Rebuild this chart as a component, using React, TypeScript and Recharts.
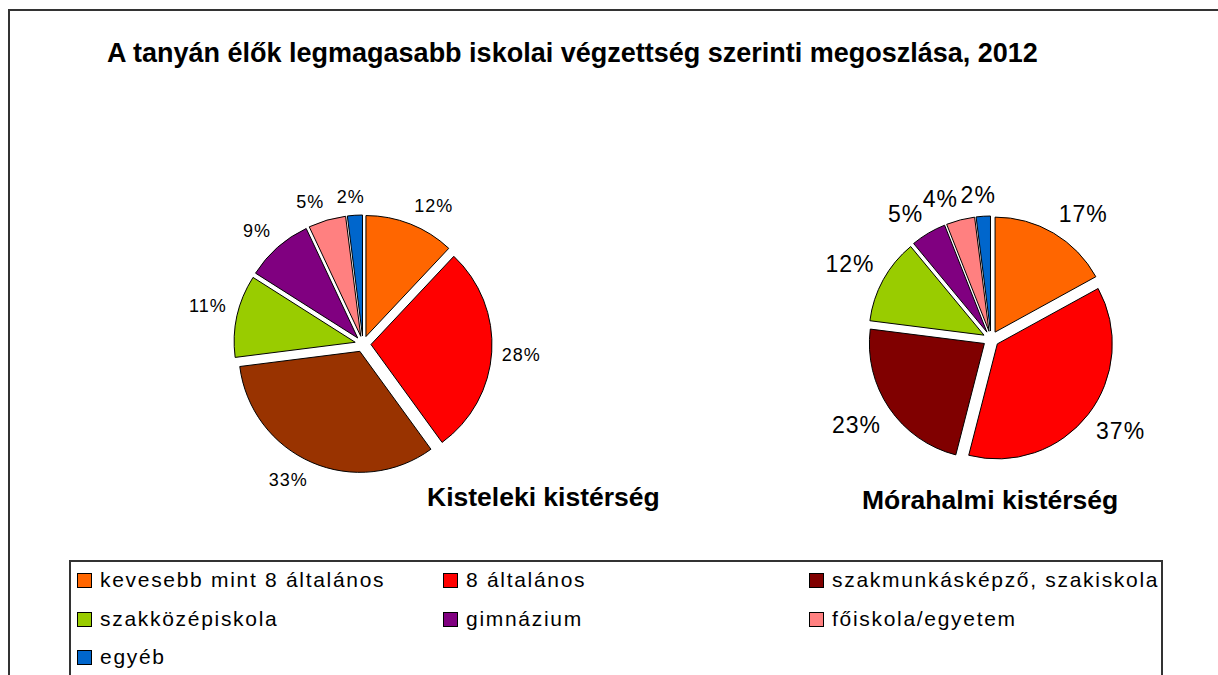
import { PieChart, Pie, Cell, Legend, Sector } from 'recharts';

const categories = [
  'kevesebb mint 8 általános',
  '8 általános',
  'szakmunkásképző, szakiskola',
  'szakközépiskola',
  'gimnázium',
  'főiskola/egyetem',
  'egyéb',
];
const kistelekiValues = [12, 28, 33, 11, 9, 5, 2];
const morahalmiValues = [17, 37, 23, 12, 5, 4, 2];
const kistelekiColors = ['#FF6600', '#FF0000', '#993300', '#99CC00', '#800080', '#FF8080', '#0066CC'];
const morahalmiColors = ['#FF6600', '#FF0000', '#800000', '#99CC00', '#800080', '#FF8080', '#0066CC'];
const legendColors = morahalmiColors;

const title = 'A tanyán élők legmagasabb iskolai végzettség szerinti megoszlása, 2012';
const kistelekiTitle = 'Kisteleki kistérség';
const morahalmiTitle = 'Mórahalmi kistérség';

const kistelekiData = categories.map((name, i) => ({ name, value: kistelekiValues[i] }));
const morahalmiData = categories.map((name, i) => ({ name, value: morahalmiValues[i] }));

const FONT = '"Liberation Sans", Arial, sans-serif';
const RAD = Math.PI / 180;
const EXPLODE = 8;
const GAP = 10;

const clamp = (v: number) => Math.max(-1, Math.min(1, v));

// each slice pushed out a bit along its mid angle
function ExplodedSector(props: any) {
  const { cx, cy, midAngle } = props;
  const dx = EXPLODE * Math.cos(-midAngle * RAD);
  const dy = EXPLODE * Math.sin(-midAngle * RAD);
  return <Sector {...props} cx={cx + dx} cy={cy + dy} />;
}

// label box corner sits just outside the exploded slice edge (Excel-like)
function makeLabel(fontSize: number) {
  return (props: any) => {
    const { cx, cy, midAngle, outerRadius, value } = props;
    const text = `${value}%`;
    const ux = Math.cos(-midAngle * RAD);
    const uy = Math.sin(-midAngle * RAD);
    const w = (String(value).length * 0.556 + 0.889) * fontSize + text.length;
    const h = fontSize * 0.95;
    const d = outerRadius + EXPLODE + GAP;
    const x = cx + ux * d + (w / 2) * clamp(4 * ux);
    const y = cy + uy * d + (h / 2) * clamp(4 * uy);
    return (
      <text
        x={x}
        y={y}
        textAnchor="middle"
        dominantBaseline="central"
        fontFamily={FONT}
        fontSize={fontSize}
        letterSpacing={1}
        fill="#000"
      >
        {text}
      </text>
    );
  };
}

const legendCols = [6, 372, 738];
const legendRows = [18, 57, 95];

function LegendBox() {
  return (
    <div style={{ position: 'relative', width: '100%', height: '100%', fontFamily: FONT }}>
      {categories.map((name, i) => {
        const left = legendCols[i % 3];
        const top = legendRows[Math.floor(i / 3)];
        return (
          <div key={name} style={{ position: 'absolute', left, top: top - 13, height: 26, display: 'flex', alignItems: 'center', whiteSpace: 'nowrap' }}>
            <span style={{ display: 'inline-block', width: 13, height: 13, background: legendColors[i], border: '1px solid #000', marginRight: 8 }} />
            <span style={{ fontSize: 21, letterSpacing: 1.7, color: '#000' }}>{name}</span>
          </div>
        );
      })}
    </div>
  );
}

export default function App() {
  return (
    <div style={{ position: 'absolute', left: 0, top: 0, width: 1218, height: 675, overflow: 'hidden', background: '#fff' }}>
      <PieChart width={1218} height={675} margin={{ top: 0, right: 0, bottom: 0, left: 0 }}>
        <Pie
          data={kistelekiData}
          dataKey="value"
          nameKey="name"
          cx={363}
          cy={344}
          outerRadius={121}
          startAngle={90}
          endAngle={-270}
          stroke="#000"
          strokeWidth={1}
          shape={ExplodedSector}
          activeShape={ExplodedSector}
          label={makeLabel(18)}
          labelLine={false}
          isAnimationActive={false}
        >
          {kistelekiData.map((d, i) => (
            <Cell key={d.name} fill={kistelekiColors[i]} />
          ))}
        </Pie>
        <Pie
          data={morahalmiData}
          dataKey="value"
          nameKey="name"
          cx={991}
          cy={339}
          outerRadius={115}
          startAngle={90}
          endAngle={-270}
          stroke="#000"
          strokeWidth={1}
          shape={ExplodedSector}
          activeShape={ExplodedSector}
          label={makeLabel(23)}
          labelLine={false}
          isAnimationActive={false}
        >
          {morahalmiData.map((d, i) => (
            <Cell key={d.name} fill={morahalmiColors[i]} />
          ))}
        </Pie>
        <Legend
          content={() => <LegendBox />}
          wrapperStyle={{
            position: 'absolute',
            left: 69,
            top: 560,
            width: 1094,
            height: 130,
            border: '2px solid #333',
            boxSizing: 'border-box',
            background: '#fff',
          }}
        />
      </PieChart>
      <svg width={1218} height={675} style={{ position: 'absolute', left: 0, top: 0, pointerEvents: 'none' }}>
        <rect x={9} y={10} width={1400} height={900} fill="none" stroke="#333" strokeWidth={2} />
        <text x={107} y={62} fontFamily={FONT} fontSize={27} fontWeight="bold" fill="#000">
          {title}
        </text>
        <text x={427} y={506} fontFamily={FONT} fontSize={26.5} fontWeight="bold" fill="#000">
          {kistelekiTitle}
        </text>
        <text x={862} y={509} fontFamily={FONT} fontSize={26.5} fontWeight="bold" fill="#000">
          {morahalmiTitle}
        </text>
      </svg>
    </div>
  );
}
